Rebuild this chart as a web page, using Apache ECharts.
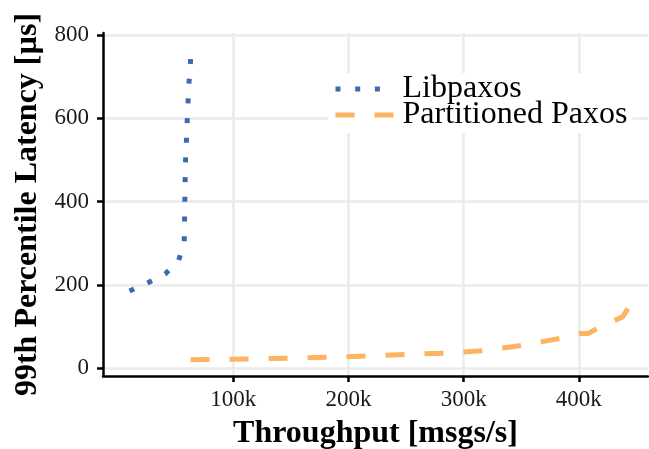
<!DOCTYPE html>
<html>
<head>
<meta charset="utf-8">
<script src="https://cdn.jsdelivr.net/npm/echarts@6/dist/echarts.min.js"></script>
<style>
  html, body { margin: 0; padding: 0; background: #fff; }
  #chart { width: 649px; height: 449px; }
</style>
</head>
<body>
<div id="chart"></div>
<script>
// Throughput (msgs/s) vs. 99th percentile latency (µs)
const libpaxosThroughput = [10000, 26000, 41000, 52500, 57500, 58000, 58500, 59300, 60300, 61500, 63800];
const libpaxosLatency    = [185, 205, 226, 258, 300, 400, 490, 540, 610, 680, 772];

const partitionedThroughput = [63000, 115000, 183000, 216000, 250000, 286000, 317000, 347000, 383000, 401000, 408000, 414000, 430500, 438000, 442500];
const partitionedLatency    = [20, 22, 26, 29, 33, 36, 42, 53, 71, 83, 83, 92, 114, 123, 143];

const xTicks = [100000, 200000, 300000, 400000];
const yTicks = [0, 200, 400, 600, 800];

const seriesNames = ['Libpaxos', 'Partitioned Paxos'];
const seriesColors = ['#386CB0', '#FDB462'];
const seriesDash = [[5, 14.7], [19, 20]];
// legend keys: three dots / two dashes
const legendDash = [[5, 14.7, 5, 14.7, 5, 40], [19, 20, 19, 40]];

function pairs(xs, ys) {
  return xs.map((x, i) => [x, ys[i]]);
}

const font = 'Liberation Serif';
const chart = echarts.init(document.getElementById('chart'), null, { renderer: 'canvas' });

chart.setOption({
  backgroundColor: '#ffffff',
  animation: false,
  grid: { left: 103, right: 1, top: 33, bottom: 73, containLabel: false, outerBoundsMode: 'none' },
  xAxis: {
    type: 'value',
    min: -13000,
    max: 460000,
    name: 'Throughput [msgs/s]',
    nameLocation: 'middle',
    nameGap: 42,
    nameTextStyle: { fontFamily: font, fontSize: 32, fontWeight: 'bold', color: '#000' },
    axisLine: { show: true, onZero: false, lineStyle: { color: '#000', width: 2.5 } },
    axisTick: { show: true, length: 6, lineStyle: { color: '#000', width: 2.5 }, customValues: xTicks },
    axisLabel: {
      fontFamily: font, fontSize: 23, color: '#1a1a1a', margin: 12,
      customValues: xTicks,
      formatter: v => (v / 1000) + 'k'
    },
    splitLine: { show: true, lineStyle: { color: '#ebebeb', width: 2.5 } }
  },
  yAxis: {
    type: 'value',
    min: -19,
    max: 805,
    name: '99th Percentile Latency [µs]',
    nameLocation: 'middle',
    nameGap: 57,
    nameTextStyle: { fontFamily: font, fontSize: 32, fontWeight: 'bold', color: '#000' },
    axisLine: { show: true, onZero: false, lineStyle: { color: '#000', width: 2.5 } },
    axisTick: { show: true, length: 6, lineStyle: { color: '#000', width: 2.5 }, customValues: yTicks },
    axisLabel: { fontFamily: font, fontSize: 23, color: '#1a1a1a', margin: 14, customValues: yTicks },
    splitLine: { show: true, lineStyle: { color: '#ebebeb', width: 2.5 } }
  },
  legend: {
    orient: 'vertical',
    left: 328,
    top: 73,
    padding: [0, 5, 2, 5],
    backgroundColor: '#ffffff',
    itemWidth: 62,
    itemHeight: 25,
    itemGap: -6,
    textStyle: { fontFamily: font, fontSize: 32, lineHeight: 25, color: '#000' },
    data: seriesNames.map((name, i) => ({
      name: name,
      itemStyle: { opacity: 0 },
      lineStyle: { color: seriesColors[i], width: 5, type: legendDash[i], cap: 'butt' }
    }))
  },
  series: seriesNames.map((name, i) => ({
    name: name,
    type: 'line',
    data: i === 0 ? pairs(libpaxosThroughput, libpaxosLatency)
                  : pairs(partitionedThroughput, partitionedLatency),
    symbol: 'none',
    color: seriesColors[i],
    lineStyle: { color: seriesColors[i], width: 5, type: seriesDash[i], cap: 'butt' }
  }))
});
</script>
</body>
</html>
